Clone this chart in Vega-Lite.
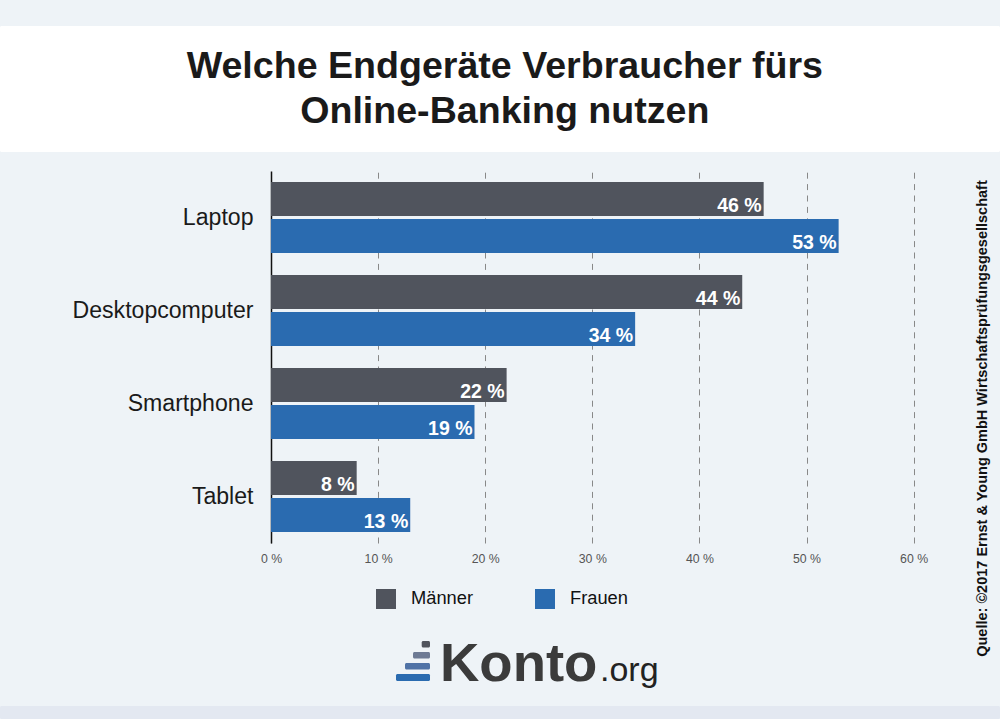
{
  "$schema": "https://vega.github.io/schema/vega-lite/v6.json",
  "autosize": {"type": "none"},
  "padding": {"left": 271, "top": 171, "right": 86.4, "bottom": 176},
  "width": 642.6,
  "height": 372,
  "background": "#eef3f7",
  "config": {"view": {"stroke": null}},
  "title": {
    "text": ["Welche Endgeräte Verbraucher fürs", "Online-Banking nutzen"],
    "font": "Liberation Sans",
    "fontSize": 37.6,
    "fontWeight": "bold",
    "color": "#1a1a1a",
    "lineHeight": 45,
    "anchor": "middle",
    "frame": "group",
    "dx": -87.5,
    "baseline": "alphabetic",
    "offset": -135,
    "zindex": 1
  },
  "datasets": {
    "umfrage": [
      {"Gerät": "Laptop", "Geschlecht": "Männer", "Anteil": 46, "Text": "46 %"},
      {"Gerät": "Laptop", "Geschlecht": "Frauen", "Anteil": 53, "Text": "53 %"},
      {"Gerät": "Desktopcomputer", "Geschlecht": "Männer", "Anteil": 44, "Text": "44 %"},
      {"Gerät": "Desktopcomputer", "Geschlecht": "Frauen", "Anteil": 34, "Text": "34 %"},
      {"Gerät": "Smartphone", "Geschlecht": "Männer", "Anteil": 22, "Text": "22 %"},
      {"Gerät": "Smartphone", "Geschlecht": "Frauen", "Anteil": 19, "Text": "19 %"},
      {"Gerät": "Tablet", "Geschlecht": "Männer", "Anteil": 8, "Text": "8 %"},
      {"Gerät": "Tablet", "Geschlecht": "Frauen", "Anteil": 13, "Text": "13 %"}
    ],
    "flaechen": [
      {"Name": "Kopf", "links": 0, "rechts": 1000, "oben": 26, "unten": 152, "Farbe": "Kopf"},
      {"Name": "Fuss", "links": 0, "rechts": 1000, "oben": 706, "unten": 719, "Farbe": "Fuss"},
      {"Name": "Stufe 1", "links": 421.7, "rechts": 430, "oben": 641, "unten": 647.5, "Farbe": "Stufe 1"},
      {"Name": "Stufe 2", "links": 413, "rechts": 430, "oben": 652, "unten": 658.5, "Farbe": "Stufe 2"},
      {"Name": "Stufe 3", "links": 405, "rechts": 430, "oben": 663, "unten": 669.5, "Farbe": "Stufe 3"},
      {"Name": "Stufe 4", "links": 396, "rechts": 430, "oben": 674, "unten": 681, "Farbe": "Stufe 4"}
    ]
  },
  "resolve": {"scale": {"x": "independent", "y": "independent", "color": "independent"}},
  "layer": [
    {
      "layer": [
        {
          "data": {"name": "flaechen"},
          "mark": {"type": "rect", "cornerRadius": 1.5},
          "encoding": {
            "x": {"field": "links", "type": "quantitative", "scale": {"domain": [271, 913.6], "zero": false, "nice": false}, "axis": null},
            "x2": {"field": "rechts"},
            "y": {"field": "oben", "type": "quantitative", "scale": {"domain": [171, 543], "zero": false, "nice": false, "reverse": true}, "axis": null},
            "y2": {"field": "unten"},
            "color": {
              "field": "Farbe",
              "type": "nominal",
              "legend": null,
              "scale": {
                "domain": ["Kopf", "Fuss", "Stufe 1", "Stufe 2", "Stufe 3", "Stufe 4"],
                "range": ["#ffffff", "#e3e8f1", "#50545d", "#6d7a94", "#4f72a6", "#2a6bb0"]
              }
            }
          }
        },
        {
          "data": {"values": [{"Text": "Konto", "x": 440, "y": 680.5}]},
          "mark": {"type": "text", "font": "Liberation Sans", "fontWeight": "bold", "fontSize": 54.5, "align": "left", "baseline": "alphabetic", "color": "#3b3b3b"},
          "encoding": {
            "x": {"field": "x", "type": "quantitative"},
            "y": {"field": "y", "type": "quantitative"},
            "text": {"field": "Text"}
          }
        },
        {
          "data": {"values": [{"Text": ".org", "x": 600, "y": 680.5}]},
          "mark": {"type": "text", "font": "Liberation Sans", "fontSize": 34, "align": "left", "baseline": "alphabetic", "color": "#222222"},
          "encoding": {
            "x": {"field": "x", "type": "quantitative"},
            "y": {"field": "y", "type": "quantitative"},
            "text": {"field": "Text"}
          }
        },
        {
          "data": {"values": [{"Text": "Quelle: ©2017 Ernst & Young GmbH Wirtschaftsprüfungsgesellschaft", "x": 983, "y": 418.5}]},
          "mark": {"type": "text", "font": "Liberation Sans", "fontWeight": "bold", "fontSize": 14.5, "angle": 270, "align": "center", "baseline": "middle", "color": "#111111"},
          "encoding": {
            "x": {"field": "x", "type": "quantitative"},
            "y": {"field": "y", "type": "quantitative"},
            "text": {"field": "Text"}
          }
        }
      ]
    },
    {
      "data": {"name": "umfrage"},
      "encoding": {
        "x": {
          "field": "Anteil",
          "type": "quantitative",
          "scale": {"domain": [0, 60], "nice": false},
          "axis": {
            "orient": "bottom",
            "title": null,
            "values": [0, 10, 20, 30, 40, 50, 60],
            "labelExpr": "datum.value + ' %'",
            "labelFont": "Liberation Sans",
            "labelFontSize": 12.3,
            "labelColor": "#555555",
            "labelPadding": 9,
            "labelFlush": false,
            "ticks": false,
            "domain": false,
            "grid": true,
            "gridColor": "#888888",
            "gridWidth": 1,
            "gridDash": [6, 5.4]
          }
        },
        "y": {
          "field": "Gerät",
          "type": "nominal",
          "sort": ["Laptop", "Desktopcomputer", "Smartphone", "Tablet"],
          "scale": {"paddingInner": 0.2366, "paddingOuter": 0.1183},
          "axis": {
            "orient": "left",
            "title": null,
            "labelFont": "Liberation Sans",
            "labelFontSize": 23.1,
            "labelColor": "#1a1a1a",
            "labelPadding": 18,
            "labelLimit": 300,
            "ticks": false,
            "domain": true,
            "domainColor": "#111111",
            "domainWidth": 1.5,
            "grid": false
          }
        },
        "yOffset": {
          "field": "Geschlecht",
          "type": "nominal",
          "sort": ["Männer", "Frauen"],
          "scale": {"paddingInner": 0.081, "paddingOuter": 0}
        }
      },
      "layer": [
        {
          "mark": {"type": "bar"},
          "encoding": {
            "color": {
              "field": "Geschlecht",
              "type": "nominal",
              "sort": ["Männer", "Frauen"],
              "scale": {"domain": ["Männer", "Frauen"], "range": ["#50545d", "#2a6bb0"]},
              "legend": {
                "title": null,
                "orient": "none",
                "direction": "horizontal",
                "columns": 2,
                "legendX": 105,
                "legendY": 418,
                "symbolType": "square",
                "symbolSize": 400,
                "symbolStrokeWidth": 0,
                "symbolOpacity": 1,
                "labelFont": "Liberation Sans",
                "labelFontSize": 18.3,
                "labelColor": "#111111",
                "labelOffset": 15,
                "columnPadding": 62
              }
            }
          }
        },
        {
          "mark": {"type": "text", "font": "Liberation Sans", "fontWeight": "bold", "fontSize": 19.5, "align": "right", "baseline": "middle", "dx": -2, "dy": 7, "color": "#ffffff"},
          "encoding": {"text": {"field": "Text"}}
        }
      ]
    }
  ]
}
